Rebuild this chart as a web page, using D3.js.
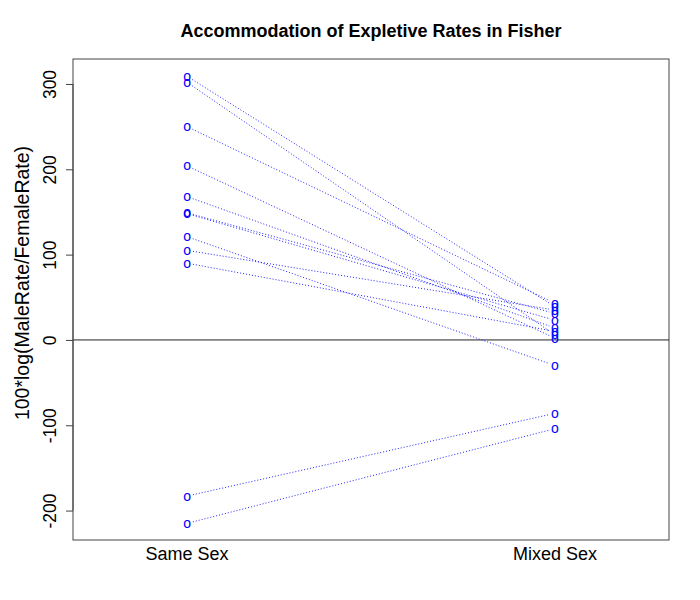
<!DOCTYPE html>
<html><head><meta charset="utf-8">
<script src="https://cdn.jsdelivr.net/npm/d3@7"></script>
<style>body{margin:0;background:#fff;} text{font-family:"Liberation Sans",Arial,sans-serif;}</style>
</head><body><svg id="c" width="700" height="600"></svg>
<script>
const categories = ["Same Sex", "Mixed Sex"];
const sameSex  = [309, 302, 250, 204, 168, 149, 148, 121, 105, 90, -183, -215];
const mixedSex = [39, 6, 43, 2, 14, 31, 23, -30, 35, 10, -86, -104];
const yTicks = [-200, -100, 0, 100, 200, 300];
const title = "Accommodation of Expletive Rates in Fisher";
const yLabel = "100*log(MaleRate/FemaleRate)";

const svg = d3.select("#c");
const L = 73, R = 669, T = 59, B = 540;
const x = d3.scaleLinear().domain([0.69, 2.31]).range([L, R]);
const y = d3.scaleLinear().domain([-234.5, 329.3]).range([B, T]);

// box
svg.append("rect").attr("x", L).attr("y", T).attr("width", R - L).attr("height", B - T)
  .attr("fill", "none").attr("stroke", "#444").attr("stroke-width", 1);

// zero line
svg.append("line").attr("x1", L).attr("x2", R).attr("y1", y(0)).attr("y2", y(0))
  .attr("stroke", "#222").attr("stroke-width", 1);

// y axis
const yAxis = d3.axisLeft(y).tickValues(yTicks).tickSize(7).tickPadding(0).tickFormat(d => String(d));
const ga = svg.append("g").attr("transform", `translate(${L},0)`).call(yAxis);
ga.select(".domain").attr("d", `M0,${y(yTicks[0])}V${y(yTicks[yTicks.length-1])}`).attr("stroke", "#444");
ga.selectAll(".tick line").attr("stroke", "#444");
ga.selectAll(".tick text").attr("x", 0).attr("dy", 0)
  .attr("transform", "translate(-17,0) rotate(-90)")
  .attr("text-anchor", "middle").attr("font-size", 17.5).attr("fill", "#000")
  .attr("font-family", "Liberation Sans, Arial, sans-serif");

// x labels
svg.selectAll(".xl").data(categories).enter().append("text")
  .attr("x", (d, i) => x(i + 1)).attr("y", 560).attr("text-anchor", "middle")
  .attr("font-size", 18).text(d => d);

// title
svg.append("text").attr("x", (L + R) / 2).attr("y", 37).attr("text-anchor", "middle")
  .attr("font-size", 18).attr("font-weight", "bold").text(title);

// y label
svg.append("text").attr("transform", `translate(29,283) rotate(-90)`)
  .attr("text-anchor", "middle").attr("font-size", 19.5).text(yLabel);

// lines with gaps
const pairs = sameSex.map((v, i) => [v, mixedSex[i]]);
const gap = 6;
svg.append("g").selectAll("line").data(pairs).enter().append("line")
  .each(function(d) {
    const x1 = x(1), y1 = y(d[0]), x2 = x(2), y2 = y(d[1]);
    const len = Math.hypot(x2 - x1, y2 - y1), ux = (x2 - x1) / len, uy = (y2 - y1) / len;
    d3.select(this).attr("x1", x1 + ux * gap).attr("y1", y1 + uy * gap)
      .attr("x2", x2 - ux * gap).attr("y2", y2 - uy * gap);
  })
  .attr("stroke", "#2222ff").attr("stroke-width", 1).attr("stroke-dasharray", "1,2");

// points as "o"
const pts = [];
pairs.forEach(d => { pts.push([1, d[0]]); pts.push([2, d[1]]); });
svg.append("g").selectAll("text").data(pts).enter().append("text")
  .attr("x", d => x(d[0])).attr("y", d => y(d[1])).attr("dy", "0.32em")
  .attr("text-anchor", "middle").attr("font-size", 14).attr("fill", "#0000ff").text("o");
</script></body></html>
